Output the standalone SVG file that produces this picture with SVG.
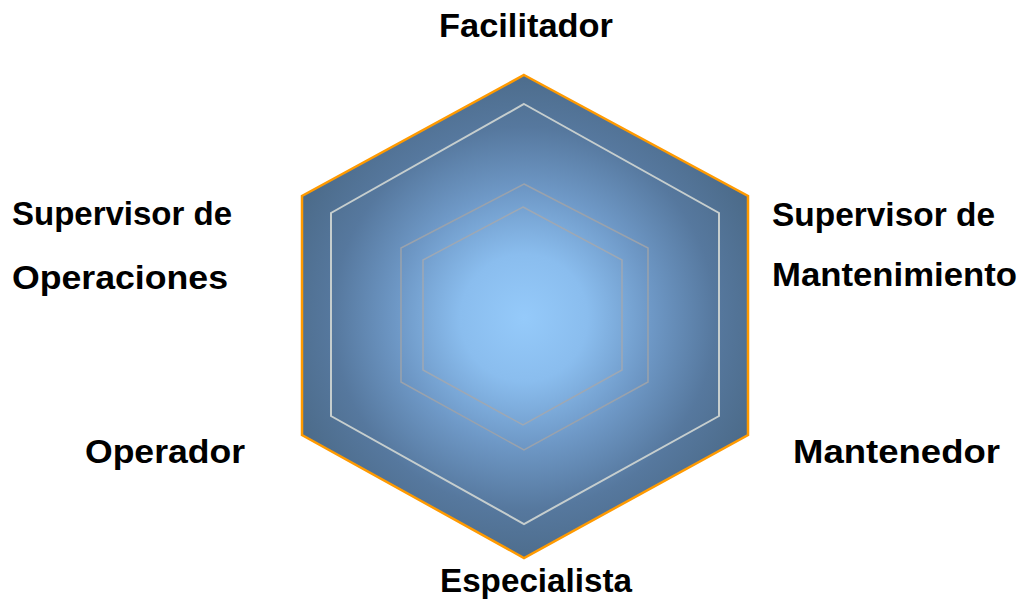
<svg xmlns="http://www.w3.org/2000/svg" width="1023" height="600" viewBox="0 0 1023 600">
  <defs>
    <radialGradient id="fillGrad" gradientUnits="userSpaceOnUse" cx="524" cy="318" r="255">
      <stop offset="0" stop-color="#95cafa"/>
      <stop offset="0.25" stop-color="#8abdee"/>
      <stop offset="0.5" stop-color="#6e98c6"/>
      <stop offset="0.75" stop-color="#56789e"/>
      <stop offset="1" stop-color="#4b6a88"/>
    </radialGradient>
  </defs>
  <style>
    .lbl { font-family: "Liberation Sans", Arial, sans-serif; font-weight: bold; font-size: 34px; fill: #000000; }
    .outer { fill: url(#fillGrad); stroke: #ff9a00; stroke-width: 2.5; stroke-linejoin: miter; }
    .ring1 { fill: none; stroke: #c6cece; stroke-width: 2; }
    .ring2 { fill: none; stroke: #9aa2ac; stroke-width: 1.5; }
    .ring3 { fill: none; stroke: #9ea8b4; stroke-width: 1.5; }
  </style>
  <rect x="0" y="0" width="1023" height="600" fill="#ffffff"/>
  <g id="hexagon">
    <polygon class="outer" points="524,75 748,196 748,435 524,558 302,435 302,196"/>
    <polygon class="ring1" points="524,104 719,213 719,416 524,524 331,416 331,213"/>
    <polygon class="ring2" points="524,184 648,248 648,382 524,450 401,382 401,248"/>
    <polygon class="ring3" points="523,207 622,260 622,370 523,425 423,370 423,260"/>
  </g>
  <g id="connectors"></g>
  <g id="node-facilitador">
    <text class="lbl" x="439" y="37" textLength="174" lengthAdjust="spacingAndGlyphs">Facilitador</text>
  </g>
  <g id="node-supervisor-operaciones">
    <text class="lbl" x="12" y="225" textLength="220" lengthAdjust="spacingAndGlyphs">Supervisor de</text>
    <text class="lbl" x="12" y="289" textLength="216" lengthAdjust="spacingAndGlyphs">Operaciones</text>
  </g>
  <g id="node-supervisor-mantenimiento">
    <text class="lbl" x="772" y="226" textLength="223" lengthAdjust="spacingAndGlyphs">Supervisor de</text>
    <text class="lbl" x="772" y="286" textLength="245" lengthAdjust="spacingAndGlyphs">Mantenimiento</text>
  </g>
  <g id="node-operador">
    <text class="lbl" x="85" y="463" textLength="160" lengthAdjust="spacingAndGlyphs">Operador</text>
  </g>
  <g id="node-mantenedor">
    <text class="lbl" x="793" y="463" textLength="207" lengthAdjust="spacingAndGlyphs">Mantenedor</text>
  </g>
  <g id="node-especialista">
    <text class="lbl" x="440" y="592" textLength="192" lengthAdjust="spacingAndGlyphs">Especialista</text>
  </g>
</svg>
